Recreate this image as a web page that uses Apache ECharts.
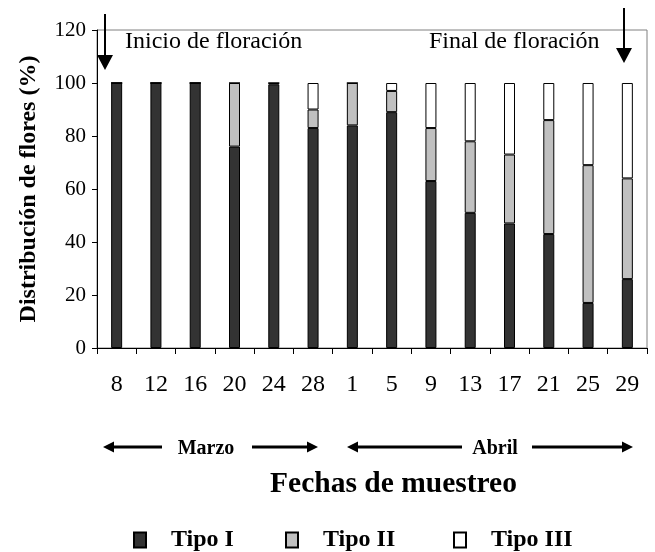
<!DOCTYPE html>
<html>
<head>
<meta charset="utf-8">
<script src="https://cdn.jsdelivr.net/npm/echarts@6/dist/echarts.min.js"></script>
<style>html,body{margin:0;padding:0;background:#fff;}#c{width:655px;height:552px;}</style>
</head>
<body>
<div id="c"></div>
<script>
const categories = ['8','12','16','20','24','28','1','5','9','13','17','21','25','29'];
const tipoI   = [100,100,100,76,99.5,83,84,89,63,51,47,43,17,26];
const tipoII  = [0,0,0,24,0.5,7,16,8,20,27,26,43,52,38];
const tipoIII = [0,0,0,0,0,10,0,3,17,22,27,14,31,36];
const yTicks = [0,20,40,60,80,100,120];
const seriesNames = ['Tipo I','Tipo II','Tipo III'];

const FONT = 'Liberation Serif';
const chart = echarts.init(document.getElementById('c'), null, {renderer:'canvas'});

function vArrow(x, y1, y2){
  return [
    {type:'line', shape:{x1:x,y1:y1,x2:x,y2:y2-12}, style:{stroke:'#000',lineWidth:2}},
    {type:'polygon', shape:{points:[[x-8,y2-15],[x+8,y2-15],[x,y2]]}, style:{fill:'#000'}}
  ];
}
function hArrow(xTail, xTip, y){
  const d = xTip > xTail ? 1 : -1;
  return [
    {type:'line', shape:{x1:xTail,y1:y,x2:xTip-d*8,y2:y}, style:{stroke:'#000',lineWidth:3}},
    {type:'polygon', shape:{points:[[xTip,y],[xTip-d*11,y-5.5],[xTip-d*11,y+5.5]]}, style:{fill:'#000'}}
  ];
}
function legendAt(name, left){
  return {
    left:left, top:528, padding:0, itemWidth:12, itemHeight:15, icon:'rect',
    data:[name],
    textStyle:{color:'#000', fontFamily:FONT, fontSize:24, fontWeight:'bold', padding:[0,0,0,20]}
  };
}

const barCommon = {type:'bar', stack:'total', barWidth:11};

chart.setOption({
  animation:false,
  backgroundColor:'#fff',
  textStyle:{fontFamily:FONT},
  grid:{left:97, right:8, top:30, bottom:204, show:true, borderColor:'#808080', borderWidth:1, containLabel:false},
  xAxis:{
    type:'category', data:categories, boundaryGap:true,
    axisLine:{lineStyle:{color:'#000', width:1}},
    axisTick:{show:true, inside:false, length:6, lineStyle:{color:'#000'}},
    axisLabel:{color:'#000', fontFamily:FONT, fontSize:24, margin:25, interval:0},
    name:'Fechas de muestreo', nameLocation:'middle', nameGap:121,
    nameTextStyle:{color:'#000', fontFamily:FONT, fontSize:29.5, fontWeight:'bold', padding:[0,0,0,43]}
  },
  yAxis:{
    type:'value', min:yTicks[0], max:yTicks[yTicks.length-1], interval:20,
    splitLine:{show:false},
    axisLine:{show:true, lineStyle:{color:'#000', width:1}},
    axisTick:{show:true, inside:false, length:5, lineStyle:{color:'#000'}},
    axisLabel:{color:'#000', fontFamily:FONT, fontSize:21, margin:11},
    name:'Distribución de flores (%)', nameLocation:'middle', nameGap:56,
    nameTextStyle:{color:'#000', fontFamily:FONT, fontSize:24, fontWeight:'bold'}
  },
  legend:[legendAt(seriesNames[0],133), legendAt(seriesNames[1],285), legendAt(seriesNames[2],453)],
  series:[
    Object.assign({}, barCommon, {name:seriesNames[0], data:tipoI, itemStyle:{color:'#333333', borderColor:'#000', borderWidth:1}}),
    Object.assign({}, barCommon, {name:seriesNames[1], data:tipoII, itemStyle:{color:'#c0c0c0', borderColor:'#000', borderWidth:1}}),
    Object.assign({}, barCommon, {name:seriesNames[2], data:tipoIII, itemStyle:{color:'#ffffff', borderColor:'#000', borderWidth:1}})
  ],
  graphic:[
    ...vArrow(105, 14, 70),
    ...vArrow(624, 8, 63),
    {type:'text', left:125, top:30, style:{text:'Inicio de floración', font:'24px "Liberation Serif"', fill:'#000'}},
    {type:'text', left:429, top:30, style:{text:'Final de floración', font:'24px "Liberation Serif"', fill:'#000'}},
    ...hArrow(162, 103, 447),
    ...hArrow(252, 318, 447),
    ...hArrow(462, 347, 447),
    ...hArrow(532, 633, 447),
    {type:'text', x:206, y:449, style:{text:'Marzo', font:'bold 20px "Liberation Serif"', fill:'#000', align:'center', verticalAlign:'middle'}},
    {type:'text', x:495, y:449, style:{text:'Abril', font:'bold 20px "Liberation Serif"', fill:'#000', align:'center', verticalAlign:'middle'}}
  ]
});
</script>
</body>
</html>
